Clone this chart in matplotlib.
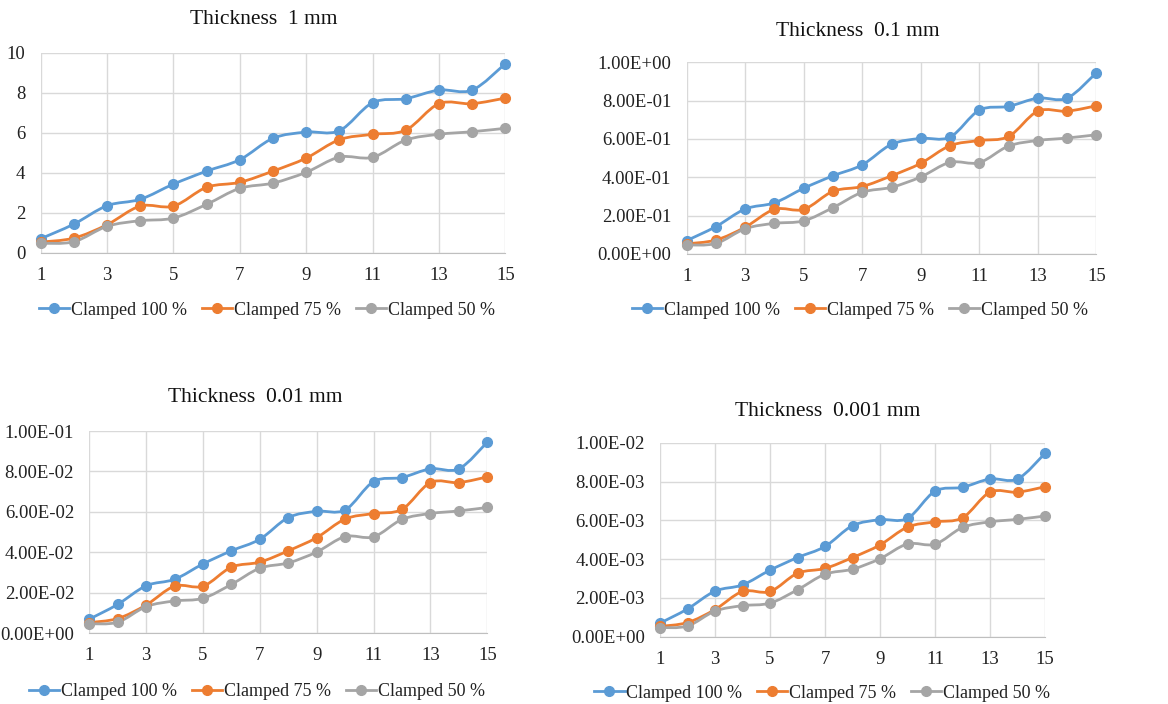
import matplotlib
matplotlib.use("Agg")
import matplotlib.pyplot as plt
from matplotlib.path import Path
from matplotlib.patches import PathPatch
from matplotlib.lines import Line2D
from matplotlib.ticker import FuncFormatter

# data (the other panels are the same curves scaled)
x = list(range(1, 16))
clamped_100 = [0.70, 1.43, 2.35, 2.67, 3.43, 4.08, 4.65, 5.72, 6.03, 6.10,
               7.50, 7.70, 8.13, 8.13, 9.45]
clamped_75 = [0.53, 0.73, 1.40, 2.33, 2.33, 3.27, 3.52, 4.08, 4.73, 5.65,
              5.92, 6.13, 7.45, 7.45, 7.73]
clamped_50 = [0.47, 0.55, 1.32, 1.60, 1.73, 2.42, 3.22, 3.48, 4.02, 4.78,
              4.77, 5.63, 5.92, 6.05, 6.22]
series_names = ["Clamped 100 %", "Clamped 75 %", "Clamped 50 %"]
thickness = ["1", "0.1", "0.01", "0.001"]
scale = [1, 0.1, 0.01, 0.001]

colors = ["#5B9BD5", "#ED7D31", "#A5A5A5"]
plt.rcParams["font.family"] = ["Liberation Serif", "DejaVu Serif"]

W, H = 1168, 704
fig = plt.figure(figsize=(W / 100, H / 100), dpi=100)

# pixel boxes: left, top, right, bottom ; title (x, y) ; legend (x, y)
panels = [
    ((40.7, 52.7, 505.3, 252.7), (264, 20), (267, 310)),
    ((686.7, 62.3, 1096.3, 254.0), (858, 31), (860, 310)),
    ((89.3, 431.0, 487.3, 633.3), (255, 397), (257, 692)),
    ((660.0, 442.7, 1045.0, 636.7), (828, 412), (822, 693)),
]


def smooth_path(xs, ys):
    # excel-like smoothed line: cubic bezier segments through each point
    verts = [(xs[0], ys[0])]
    codes = [Path.MOVETO]
    n = len(xs)
    for i in range(n - 1):
        x0, y0 = (xs[i - 1], ys[i - 1]) if i > 0 else (xs[i], ys[i])
        x1, y1 = xs[i], ys[i]
        x2, y2 = xs[i + 1], ys[i + 1]
        x3, y3 = (xs[i + 2], ys[i + 2]) if i + 2 < n else (x2, y2)
        c1 = (x1 + (x2 - x0) / 6, y1 + (y2 - y0) / 6)
        c2 = (x2 - (x3 - x1) / 6, y2 - (y3 - y1) / 6)
        verts += [c1, c2, (x2, y2)]
        codes += [Path.CURVE4] * 3
    return Path(verts, codes)


for k, ((l, t, r, b), (tx, ty), (lx, ly)) in enumerate(panels):
    ax = fig.add_axes([l / W, 1 - b / H, (r - l) / W, (b - t) / H])
    s = scale[k]
    for ys, c in zip([clamped_100, clamped_75, clamped_50], colors):
        vals = [v * s for v in ys]
        ax.add_patch(PathPatch(smooth_path(x, vals), fill=False, edgecolor=c,
                               lw=2.0, zorder=3, capstyle="round"))
        ax.plot(x, vals, linestyle="none", marker="o", ms=7, color=c,
                zorder=4, clip_on=False)
    ax.set_xlim(1, 15)
    ax.set_ylim(0, 10 * s)
    ax.set_xticks(range(1, 16, 2))
    ax.set_yticks([v * s for v in range(0, 11, 2)])
    if k == 0:
        ax.yaxis.set_major_formatter(FuncFormatter(lambda v, p: f"{v:.0f}"))
    else:
        ax.yaxis.set_major_formatter(FuncFormatter(lambda v, p: f"{v:.2E}"))
    ax.grid(True, color="#D9D9D9", lw=1.0, zorder=0)
    for side in ["top", "right", "left"]:
        ax.spines[side].set_visible(False)
    ax.spines["bottom"].set_color("#BFBFBF")
    ax.tick_params(axis="both", length=0, labelsize=13.5, colors="#222222")
    ax.tick_params(axis="y", pad=11)
    ax.tick_params(axis="x", pad=10)

    fig.text(tx / W, 1 - ty / H, f"Thickness  {thickness[k]} mm", fontsize=15.5,
             ha="center", va="center", color="#111111")

    handles = [Line2D([], [], color=c, lw=2.0, marker="o", ms=7)
               for c in colors]
    fig.legend(handles, series_names, loc="center", ncol=3,
               bbox_to_anchor=(lx / W, 1 - ly / H), frameon=False,
               fontsize=13, handlelength=1.7, handletextpad=0.1,
               columnspacing=0.8, borderpad=0, labelcolor="#222222")

fig.savefig("out.png", dpi=100, facecolor="white")
